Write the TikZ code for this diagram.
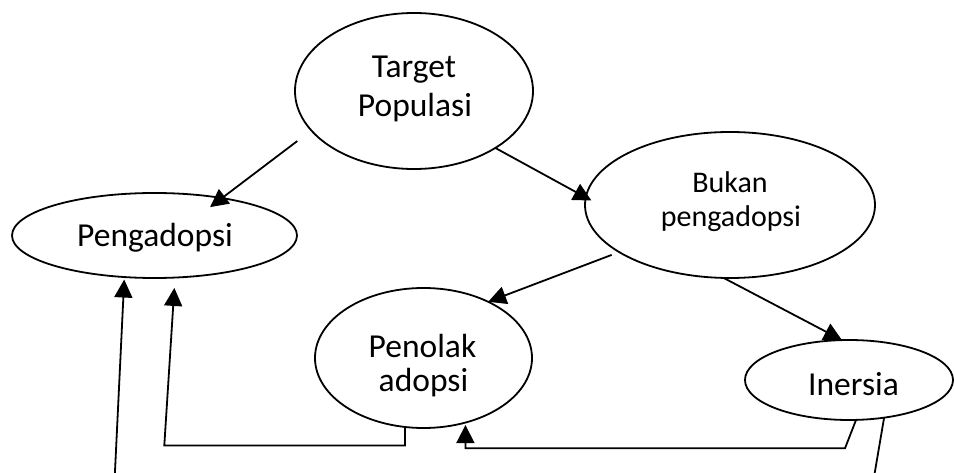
\documentclass[tikz,border=0pt]{standalone}
\usepackage{fontspec}
\setmainfont{Carlito}
\usetikzlibrary{arrows.meta,shapes.geometric}
\begin{document}
\begin{tikzpicture}[x=1pt,y=-1pt,
  oval/.style={ellipse,draw,line width=1.8pt,inner sep=0pt,outer sep=0pt},
  lbl/.style={anchor=base,inner sep=0pt,font=\fontsize{33.5}{40}\selectfont},
  lblsm/.style={lbl,font=\fontsize{30}{36}\selectfont},
  arr/.style={line width=1.8pt,-{Triangle[length=18pt,width=18pt]}}]

% canvas
\clip (0,0) rectangle (954,473);
\fill[white] (0,0) rectangle (954,473);

% ovals
\node[oval, minimum width=238pt, minimum height=156pt] (tp) at (414,91) {};
\node[oval, minimum width=285pt, minimum height=85pt]  (pg) at (154.5,235.5) {};
\node[oval, minimum width=290pt, minimum height=146pt] (bp) at (730,205) {};
\node[oval, minimum width=217pt, minimum height=140pt] (pa) at (423.5,358) {};
\node[oval, minimum width=208pt, minimum height=80pt]  (in) at (849,380) {};

% labels
\node[lbl] (tp1) at (414,78)  {Target};
\node[lbl] (tp2) at (415,117) {Populasi};
\node[lbl] (pg1) at (155,247) {Pengadopsi};
\node[lblsm] (bp1) at (730,193) {Bukan};
\node[lblsm] (bp2) at (731,227) {pengadopsi};
\node[lbl] (pa1) at (422.5,357) {Penolak};
\node[lbl] (pa2) at (423.5,391) {adopsi};
\node[lbl] (in1) at (853.5,395) {Inersia};

% straight arrows
\draw[arr, shorten <=17.6pt, shorten >=-15pt] (tp.201) -- (pg.29.4);
\draw[arr, shorten >=-6.4pt] (tp.325.7) -- (bp.177.5);
\draw[arr, shorten <=8pt] (bp.203) -- (pa.41);
\draw[arr] (bp.265.6) -- (in.100.3);

% return paths
\coordinate (k5) at (164.3,445.5);
\draw[arr, shorten >=10.4pt] (pa.255.8) |- (k5) -- (pg.296.7);

\coordinate (k6) at (845,448.3);
\draw[arr, shorten >=2.5pt] (in.280.9) -- (k6) -| (pa.303.9);

\coordinate (k7a) at (871.8,490);
\coordinate (k7b) at (114.1,490);
\draw[arr, shorten >=2.5pt] (in.313.8) -- (k7a) -- (k7b) -- (pg.234.8);
\end{tikzpicture}
\end{document}
